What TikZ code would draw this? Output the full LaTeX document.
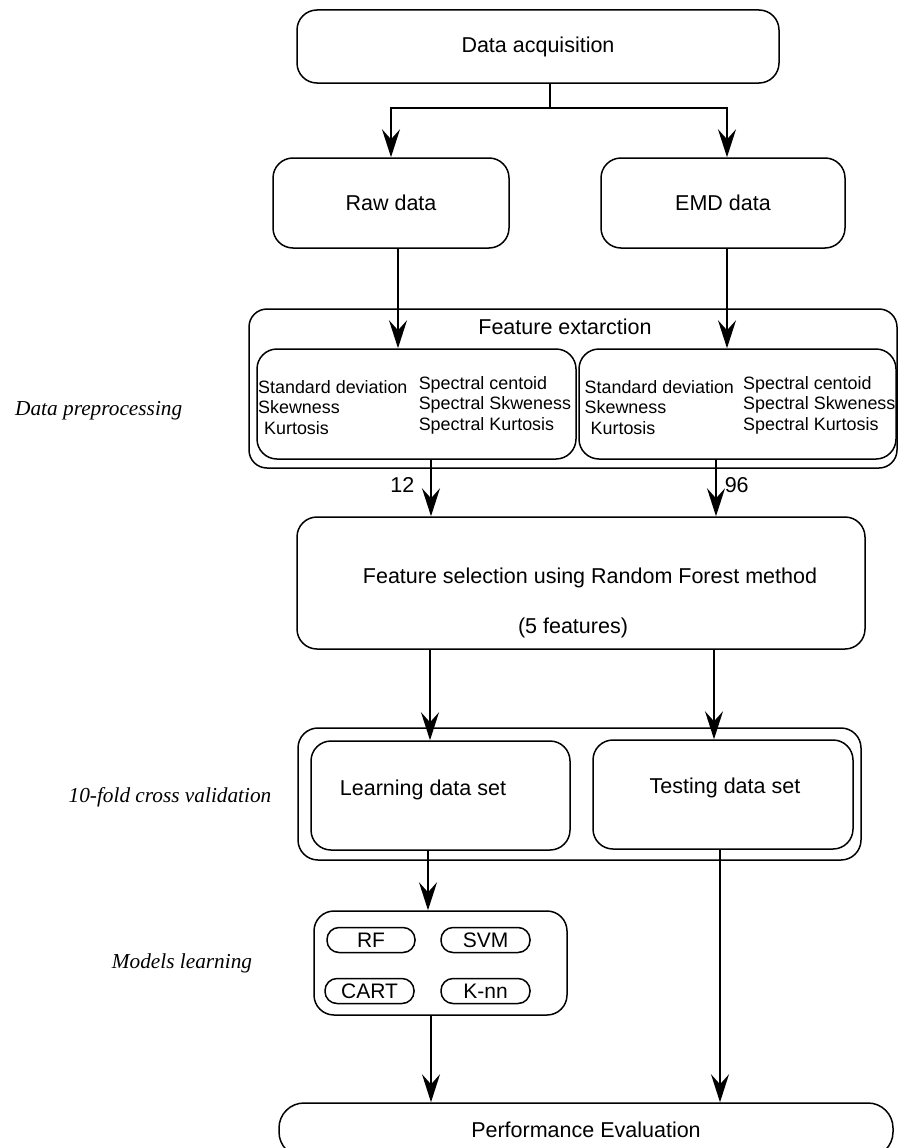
\documentclass[tikz,border=0pt]{standalone}
\usepackage{fontspec}
\setmainfont{Liberation Sans}
\newfontfamily\sidefont{Liberation Serif}
\usetikzlibrary{arrows.meta,positioning,calc}

\begin{document}
\begin{tikzpicture}[x=1pt,y=-1pt,
  box/.style={draw,line width=1.5pt,rounded corners=20pt,inner sep=0pt,font=\fontsize{21.5pt}{25pt}\selectfont},
  pill/.style={draw,line width=1.5pt,rounded corners=12pt,inner sep=0pt,minimum height=25pt,font=\fontsize{21pt}{25pt}\selectfont},
  txt/.style={inner sep=0pt,font=\fontsize{21.5pt}{25pt}\selectfont},
  feat/.style={inner sep=0pt,anchor=west,align=left,font=\fontsize{17.9pt}{20.5pt}\selectfont},
  side/.style={inner sep=0pt,font=\sidefont\itshape\fontsize{21.3pt}{25pt}\selectfont},
  arr/.style={line width=1.5pt,-{Stealth[length=28pt,width=18pt,inset=10pt]}}]
\useasboundingbox (0,0) rectangle (899,1148);

% top of the flow
\node[box,minimum width=482pt,minimum height=73pt] (acq) at (538,46.5) {Data acquisition};
\node[box,minimum width=236pt,minimum height=90pt] (raw) at (391,203) {Raw data};
\node[box,minimum width=244pt,minimum height=90pt] (emd) at (723,203) {EMD data};
\coordinate (split) at (550,108);

% feature extraction
\node[box,rounded corners=18pt,minimum width=648pt,minimum height=159pt] (featbox) at (573,388.5) {};
\node[txt] (feattitle) at (565,327) {Feature extarction};
\node[box,minimum width=319pt,minimum height=110pt] (rawfeat) at (416.5,404) {};
\node[box,minimum width=317pt,minimum height=110pt] (emdfeat) at (737.5,404) {};
\node[feat] (rawstat) at (258,407.5) {Standard deviation\\Skewness\\\hspace*{6pt}Kurtosis};
\node[feat] (rawspec) at (418.6,405) {Spectral centoid\\Spectral Skweness\\Spectral Kurtosis};
\node[feat] (emdstat) at (584.5,407.5) {Standard deviation\\Skewness\\\hspace*{6pt}Kurtosis};
\node[feat] (emdspec) at (743,405) {Spectral centoid\\Spectral Skweness\\Spectral Kurtosis};
\node[side,anchor=west] (prelabel) at (15,411) {Data preprocessing};

% feature selection
\node[box,minimum width=568pt,minimum height=132pt] (fs) at (581,583) {};
\node[txt] (fstext) at (590,578) {Feature selection using Random Forest method};
\node[txt] (fsnum) at (573,628) {(5 features)};

% cross validation
\node[box,minimum width=563pt,minimum height=132pt] (cvbox) at (579.5,794) {};
\node[box,minimum width=259pt,minimum height=109pt] (learn) at (440.5,795.5) {};
\node[box,minimum width=260pt,minimum height=109pt] (test) at (723,794.5) {};
\node[txt] (learntext) at (423,790) {Learning data set};
\node[txt] (testtext) at (725,788) {Testing data set};
\node[side] (cvlabel) at (170,797) {10-fold cross validation};

% models
\node[box,minimum width=253pt,minimum height=104pt] (models) at (440.5,963) {};
\node[pill,minimum width=88pt] (rf) at (371,940) {RF};
\node[pill,minimum width=89pt] (svm) at (485.5,940) {SVM};
\node[pill,minimum width=89pt] (cart) at (369.5,991) {CART};
\node[pill,minimum width=89pt] (knn) at (485.5,991) {K-nn};
\node[side] (modlabel) at (182,963) {Models learning};

\node[box,rounded corners=25pt,minimum width=614pt,minimum height=54pt] (perf) at (586,1130) {Performance Evaluation};

% connectors
\draw[line width=1.5pt] (split |- acq.south) -- (split);
\draw[arr] (split) -| (raw.north);
\draw[arr] (split) -| ([xshift=4pt]emd.north);
\draw[arr] ([xshift=7pt]raw.south) -- ([xshift=7pt]raw.south |- rawfeat.north);
\draw[arr] ([xshift=4pt]emd.south) -- ([xshift=4pt]emd.south |- emdfeat.north);
\draw[arr] ([xshift=14.5pt]rawfeat.south) -- ([xshift=14.5pt]rawfeat.south |- fs.north)
  node[txt,pos=0.45,left=16pt] (rawcount) {12};
\draw[arr] ([xshift=-21.5pt]emdfeat.south) -- ([xshift=-21.5pt]emdfeat.south |- fs.north)
  node[txt,pos=0.45,right=8pt] (emdcount) {96};
\draw[arr] ([xshift=-10.5pt]learn.north |- fs.south) -- ([xshift=-10.5pt]learn.north);
\draw[arr] ([xshift=-9pt]test.north |- fs.south) -- ([xshift=-9pt]test.north);
\draw[arr] ([xshift=-12.5pt]learn.south) -- ([xshift=-12.5pt]learn.south |- models.north);
\draw[arr] ([xshift=-9.5pt]models.south) -- ([xshift=-9.5pt]models.south |- perf.north);
\draw[arr] ([xshift=-3pt]test.south) -- ([xshift=-3pt]test.south |- perf.north);
\end{tikzpicture}
\end{document}
